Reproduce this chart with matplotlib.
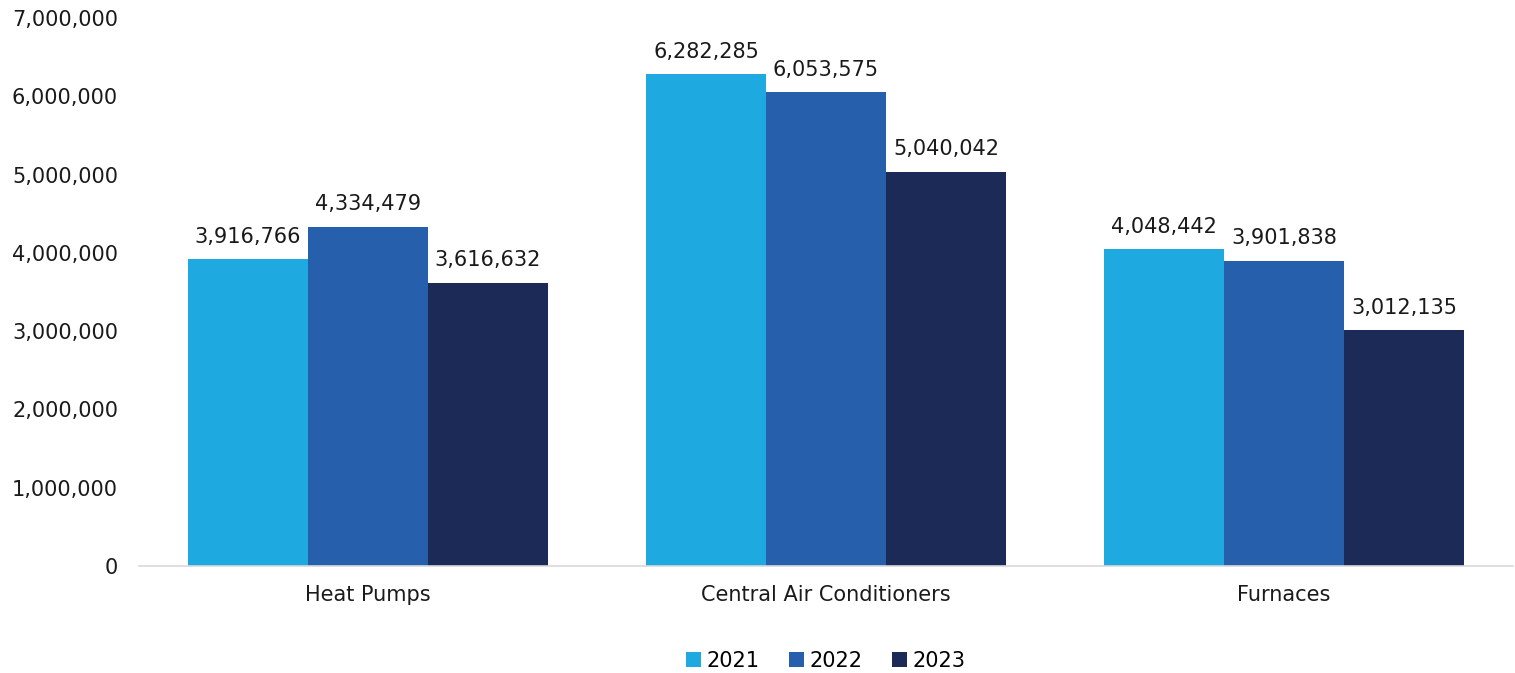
import numpy as np
import matplotlib.pyplot as plt
from matplotlib.ticker import FuncFormatter

# data
categories = ["Heat Pumps", "Central Air Conditioners", "Furnaces"]
years = ["2021", "2022", "2023"]
values_2021 = [3916766, 6282285, 4048442]
values_2022 = [4334479, 6053575, 3901838]
values_2023 = [3616632, 5040042, 3012135]
colors = ["#1FA9E1", "#2660AC", "#1B2A56"]

plt.rcParams['font.family'] = ['DejaVu Sans']

fig = plt.figure(figsize=(15.15, 6.73), dpi=100)
ax = fig.add_axes([0.0917, 0.159, 0.907, 0.814])

x = np.arange(len(categories))
w = 0.262
series = [values_2021, values_2022, values_2023]
for i, (vals, col, yr) in enumerate(zip(series, colors, years)):
    pos = x + (i - 1) * w
    bars = ax.bar(pos, vals, width=w, color=col, label=yr)
    for b, v in zip(bars, vals):
        ax.annotate(f"{v:,}", (b.get_x() + b.get_width() / 2, v),
                    xytext=(0, 9), textcoords="offset points",
                    ha="center", va="bottom", fontsize=15, color="#1a1a1a")

ax.set_xlim(-0.5, 2.5)
ax.set_ylim(0, 7000000)
ax.set_yticks(np.arange(0, 7000001, 1000000))
ax.yaxis.set_major_formatter(FuncFormatter(lambda v, p: f"{int(v):,}"))
ax.set_xticks(x)
ax.set_xticklabels(categories)
ax.tick_params(axis="both", length=0, labelsize=15, colors="#1a1a1a")
ax.tick_params(axis="x", pad=14)
ax.tick_params(axis="y", pad=15)

for s in ["top", "right", "left"]:
    ax.spines[s].set_visible(False)
ax.spines["bottom"].set_color("#d9d9d9")
ax.spines["bottom"].set_linewidth(1.2)

ax.legend(loc="center", bbox_to_anchor=(0.5, -0.173), ncol=3, frameon=False,
          fontsize=15, handlelength=0.7, handleheight=0.7, handletextpad=0.3,
          columnspacing=1.4)

fig.savefig("out.png", dpi=100)
